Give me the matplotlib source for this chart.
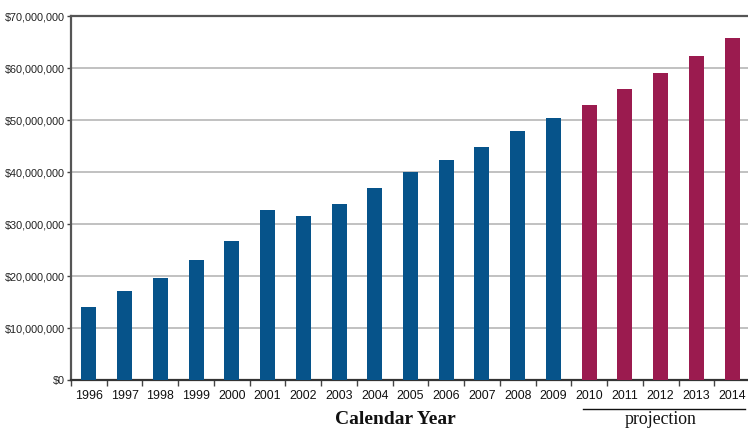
import matplotlib
matplotlib.use("Agg")
from matplotlib import pyplot as plt
from matplotlib.ticker import FuncFormatter, MultipleLocator, FixedLocator

# values (millions of dollars)
years = list(range(1996, 2015))
actual_years = years[:14]
actual_vals = [14.0, 17.1, 19.6, 23.0, 26.7, 32.6, 31.5, 33.8, 37.0, 40.0,
               42.4, 44.9, 47.8, 50.3]
proj_years = years[14:]
proj_vals = [52.8, 55.9, 59.1, 62.4, 65.8]

BLUE = "#06538a"
MAROON = "#9b1b4f"
SANS = ["Liberation Sans", "DejaVu Sans"]
SERIF = ["Liberation Serif", "DejaVu Serif"]


def main() -> None:
    fig = plt.figure(figsize=(7.48, 4.28), dpi=100)
    ax = fig.add_axes([71 / 748, 1 - 380 / 428, 679 / 748, 364 / 428])

    # bars, indexed by category position
    xa = [years.index(y) for y in actual_years]
    xp = [years.index(y) for y in proj_years]
    ax.bar(xa, [v * 1e6 for v in actual_vals], width=0.42, color=BLUE, zorder=3)
    ax.bar(xp, [v * 1e6 for v in proj_vals], width=0.42, color=MAROON, zorder=3)

    ax.set_xlim(-0.5, len(years) - 0.5)
    ax.set_ylim(0, 70e6)

    # y axis
    ax.yaxis.set_major_locator(MultipleLocator(10e6))
    ax.yaxis.set_major_formatter(FuncFormatter(lambda v, _: f"${v:,.0f}"))
    ax.grid(axis="y", color="#bcbcbc", linewidth=1.3, zorder=0)
    ax.tick_params(axis="y", direction="out", length=3, width=1,
                   color="#444444", pad=1.5, labelcolor="#222222")
    for lab in ax.get_yticklabels():
        lab.set_fontfamily(SANS)
        lab.set_fontsize(7.8)

    # x axis: labels at centres, ticks at category boundaries
    ax.set_xticks(range(len(years)))
    ax.set_xticklabels([str(y) for y in years], fontfamily=SANS, fontsize=8.9,
                       color="#111111")
    ax.tick_params(axis="x", which="major", length=0, pad=7.5)
    ax.xaxis.set_minor_locator(FixedLocator([i - 0.5 for i in range(len(years) + 1)]))
    ax.tick_params(axis="x", which="minor", direction="out", length=4, width=1,
                   color="#444444")

    for side in ("left", "top"):
        ax.spines[side].set_color("#555555")
        ax.spines[side].set_linewidth(1.6)
    ax.spines["bottom"].set_color("#333333")
    ax.spines["bottom"].set_linewidth(1.6)
    ax.spines["right"].set_visible(False)

    # axis title and projection bracket
    fig.text(395 / 748, 1 - 419 / 428, "Calendar Year", ha="center", va="center",
             fontfamily=SERIF, fontsize=14, fontweight="bold", color="#111111")
    fig.add_artist(plt.Line2D([583 / 748, 745 / 748], [1 - 408.5 / 428] * 2,
                              color="#111111", linewidth=1.0,
                              transform=fig.transFigure))
    fig.text(661 / 748, 1 - 420 / 428, "projection", ha="center", va="center",
             fontfamily=SERIF, fontsize=12.8, color="#111111")

    fig.savefig("out.png", dpi=100)
    plt.close(fig)


if __name__ == "__main__":
    main()
